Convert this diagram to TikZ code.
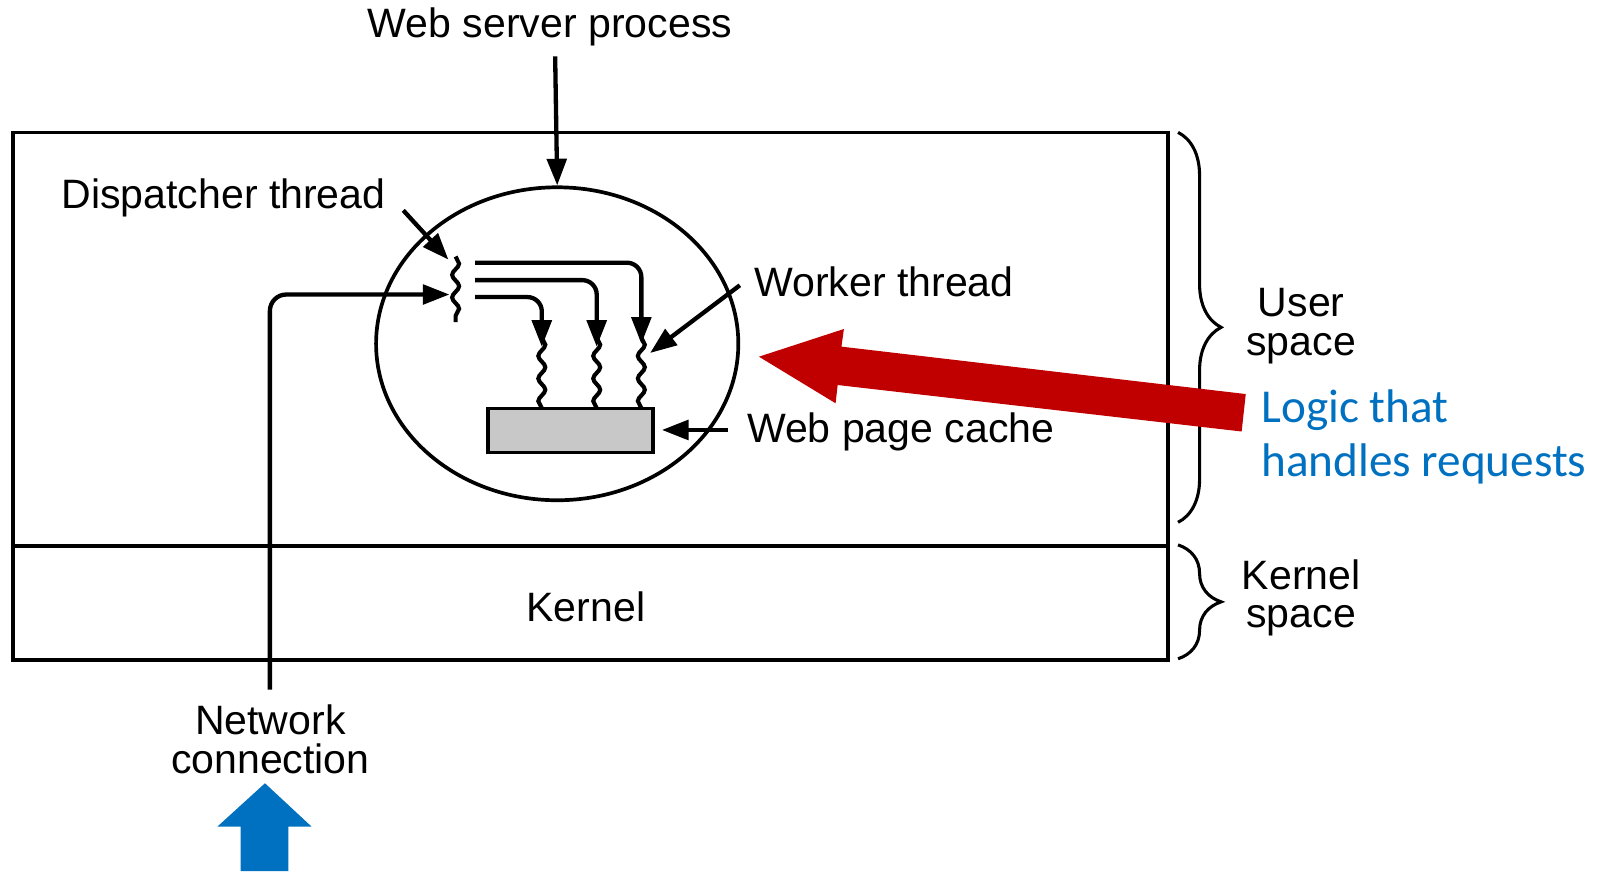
\documentclass[tikz,border=0pt]{standalone}
\usepackage{fontspec}
\setmainfont{Liberation Sans}
\newfontfamily\calibrifont{Carlito}
\usetikzlibrary{arrows.meta,decorations.pathmorphing,decorations.pathreplacing,shapes.geometric}
\definecolor{redarr}{HTML}{C00000}
\definecolor{bluearr}{HTML}{0070C0}
\definecolor{cachegray}{HTML}{C8C8C8}
\begin{document}
\begin{tikzpicture}[x=1pt,y=-1pt,
  lw/.style={line width=3.6pt},
  lbl/.style={font=\fontsize{40}{39}\selectfont,inner sep=0pt,outer sep=0pt},
  twolbl/.style={inner sep=0pt,outer sep=0pt,align=center,anchor=north},
  bluelbl/.style={font=\calibrifont\fontsize{46}{52}\selectfont,text=bluearr,inner sep=0pt,align=left},
  conn/.style={line width=4.2pt,-{Triangle[length=26pt,width=19pt]}},
  wavy/.style={line width=4pt,decorate,decoration={snake,amplitude=3.4pt,segment length=22pt}},
  bracestyle/.style={line width=3pt,decorate,decoration={brace,amplitude=42pt}}]
\useasboundingbox (0,0) rectangle (1568,849);

% outer boxes
\draw[lw] (13,129) rectangle (1138,643);
\draw[lw] (13,532) -- (1138,532);

% process ellipse and cache
\node[draw,lw,ellipse,minimum width=353pt,minimum height=305pt,inner sep=0pt] (proc) at (543,335) {};
\node[draw,lw,fill=cachegray,minimum width=161pt,minimum height=43pt,inner sep=0pt] (cache) at (556,419.5) {};

% labels
\node[lbl,anchor=base] (wsp) at (536,37) {Web server process};
\node[lbl,anchor=base west] (disp) at (60,203) {Dispatcher thread};
\node[lbl,anchor=base west] (work) at (735,289) {Worker thread};
\node[lbl,anchor=base west] (wpc) at (728,431) {Web page cache};
\node[lbl,anchor=base] (kern) at (571,606) {Kernel};
\node[twolbl,font=\fontsize{40}{38}\selectfont] (uspace) at (1268,281) {User\\space};
\node[twolbl,font=\fontsize{40}{38}\selectfont] (kspace) at (1268,545) {Kernel\\space};
\node[twolbl,font=\fontsize{40}{38}\selectfont] (netc) at (263.5,687) {Network\\connection};
\node[bluelbl,anchor=base west] (logic1) at (1229,412) {Logic that};
\node[bluelbl,anchor=base west] (logic2) at (1229,464) {handles requests};

% threads
\coordinate (dtop) at (444,250);
\coordinate (dbot) at (444,314);
\draw[wavy] (dtop) -- (dbot);
\foreach \x/\n in {528/w1,581.5/w2,625/w3}{
  \coordinate (\n top) at (\x,329);
  \coordinate (\n bot) at (\x,398);
  \draw[wavy] (\n top) -- (\n bot);
}

% connector coordinates
\coordinate (wspin) at (541,55);
\coordinate (dispfrom) at (393,205);
\coordinate (dispto) at (437,253);
\coordinate (netbot) at (263,672);
\coordinate (netto) at (438,287);
\coordinate (workfrom) at (721,278);
\coordinate (workto) at (633.5,344);
\coordinate (wpcfrom) at (709.5,419);
\coordinate (wpcto) at (645,419);
\coordinate (o1) at (463,256);
\coordinate (o2) at (463,273);
\coordinate (o3) at (463,289.5);

% connectors
\draw[conn] (wspin) -- (proc.north);
\draw[conn] (dispfrom) -- (dispto);
\draw[conn,rounded corners=16pt] (netbot) |- (netto);
\draw[conn] (workfrom) -- (workto);
\draw[conn] (wpcfrom) -- (wpcto);
\draw[conn,rounded corners=14pt] (o1) -| ([yshift=-6pt]w3top);
\draw[conn,rounded corners=14pt] (o2) -| ([yshift=-9pt]w2top);
\draw[conn,rounded corners=14pt] (o3) -| ([yshift=-9pt]w1top);

% braces
\draw[bracestyle] (1148,129) -- (1148,509);
\draw[bracestyle] (1148,531) -- (1148,642);

% red arrow
\fill[redarr] (739.6,347.6) -- (822.4,320.6) -- (820,337.8) -- (1214,384) -- (1210,420.5) -- (816.3,375.2) -- (814.3,393) -- cycle;

% blue arrow
\fill[bluearr] (258.2,763.3) -- (303.7,805.6) -- (281,805.6) -- (281,849) -- (234.5,849) -- (234.5,805.6) -- (211.8,805.6) -- cycle;
\end{tikzpicture}
\end{document}
